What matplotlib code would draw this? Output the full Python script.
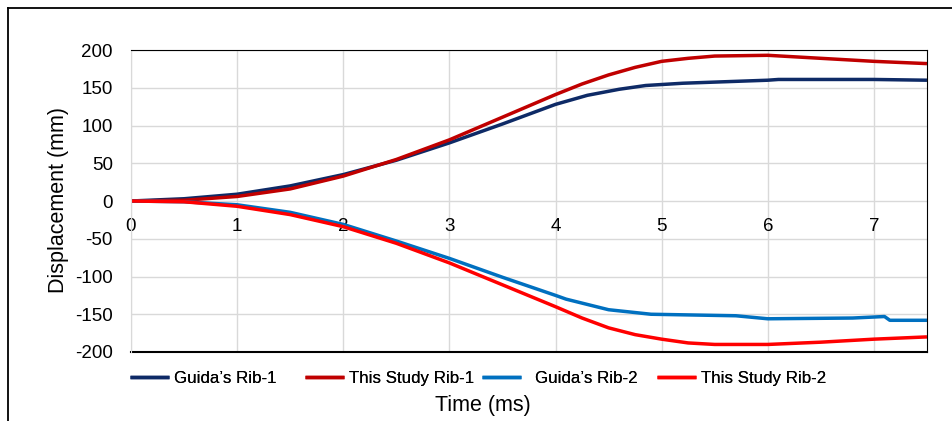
#!/usr/bin/env python3
"""
Rib displacement vs time: Guida's results compared with this study.
"""

import matplotlib
matplotlib.use('Agg')
import matplotlib.pyplot as plt
from matplotlib.lines import Line2D

# Guida's Rib-1
t_guida1 = [0, 0.5, 1.0, 1.5, 2.0, 2.5, 3.0, 3.5, 4.0, 4.3, 4.6, 4.85, 5.2, 5.6, 6.0, 6.1, 6.5, 7.0, 7.5]
d_guida1 = [0, 3, 9, 20, 35, 54, 77, 102, 128, 140, 148, 153, 156, 158, 160, 161, 161, 161, 160]

# This Study Rib-1
t_study1 = [0, 0.5, 1.0, 1.5, 2.0, 2.5, 3.0, 3.5, 4.0, 4.25, 4.5, 4.75, 5.0, 5.25, 5.5, 6.0, 6.5, 7.0, 7.5]
d_study1 = [0, 1, 6, 16, 33, 55, 81, 111, 141, 155, 167, 177, 185, 189, 192, 193, 189, 185, 182]

# Guida's Rib-2
t_guida2 = [0, 0.5, 1.0, 1.5, 2.0, 2.5, 3.0, 3.5, 4.0, 4.1, 4.5, 4.9, 5.7, 6.0, 6.8, 7.1, 7.15, 7.5]
d_guida2 = [0, -1, -5, -15, -31, -53, -76, -101, -125, -130, -144, -150, -152, -156, -155, -153, -158, -158]

# This Study Rib-2
t_study2 = [0, 0.5, 1.0, 1.5, 2.0, 2.5, 3.0, 3.5, 4.0, 4.25, 4.5, 4.75, 5.0, 5.25, 5.5, 6.0, 6.5, 7.0, 7.5]
d_study2 = [0, -1, -7, -18, -34, -56, -82, -111, -140, -155, -168, -177, -183, -188, -190, -190, -187, -183, -180]

x_ticks = [0, 1, 2, 3, 4, 5, 6, 7]
y_ticks = [-200, -150, -100, -50, 0, 50, 100, 150, 200]

labels = ["Guida\u2019s Rib-1", "This Study Rib-1", "Guida\u2019s Rib-2", "This Study Rib-2"]
colors = ['#0E2A66', '#C00000', '#0070C0', '#FF0000']

# legend entry placement (figure fraction of line start, text gap in font units)
legend_x = [0.1376, 0.3214, 0.5074, 0.6912]
legend_pad = [0.3, 0.3, 0.8, 0.3]


def main():
    plt.rcParams['font.family'] = ['Liberation Sans', 'DejaVu Sans']
    plt.rcParams['axes.unicode_minus'] = False

    fig = plt.figure(figsize=(9.52, 4.21), dpi=100)
    ax = fig.add_axes([0.1376, 0.1639, 0.8361, 0.7173])

    series = [(t_guida1, d_guida1), (t_study1, d_study1),
              (t_guida2, d_guida2), (t_study2, d_study2)]
    handles = []
    for (t, d), label, color in zip(series, labels, colors):
        line, = ax.plot(t, d, color=color, lw=2.5, label=label, solid_capstyle='butt',
                        solid_joinstyle='round')
        handles.append(line)

    ax.set_xlim(0, 7.5)
    ax.set_ylim(-200, 200)
    ax.set_xticks(x_ticks)
    ax.set_yticks(y_ticks)
    ax.grid(True, color='#D9D9D9', lw=1.0)
    ax.set_axisbelow(True)

    # x axis crosses at 0, frame drawn separately
    ax.spines['bottom'].set_position(('data', 0))
    ax.spines['bottom'].set_color('none')
    ax.spines['left'].set_color('#D9D9D9')
    ax.spines['top'].set_color('black')
    ax.spines['right'].set_color('black')
    ax.axhline(-200, color='black', lw=1.5, clip_on=False)

    ax.tick_params(axis='both', length=0, labelsize=13.5, colors='black')
    ax.tick_params(axis='x', pad=12)
    ax.tick_params(axis='y', pad=13)

    fig.text(0.061, 0.525, 'Displacement (mm)', rotation=90, ha='center', va='center', fontsize=15.5)
    fig.text(0.507, 0.038, 'Time (ms)', ha='center', va='center', fontsize=15.5)

    # one legend per entry to reproduce the uneven spacing
    for h, label, x, pad in zip(handles, labels, legend_x, legend_pad):
        leg = fig.legend([h], [label], loc='center left', bbox_to_anchor=(x - 0.0011, 0.102),
                         frameon=False, fontsize=12.2, handlelength=2.3, handletextpad=pad,
                         borderaxespad=0, borderpad=0)
        fig.add_artist(leg)

    # outer frame (left and top only)
    fig.add_artist(Line2D([0.0085, 0.0085], [0, 0.981], color='black', lw=1.3,
                          transform=fig.transFigure))
    fig.add_artist(Line2D([0.0085, 1.0], [0.981, 0.981], color='black', lw=1.3,
                          transform=fig.transFigure))

    fig.savefig('out.png', dpi=100)
    plt.close(fig)


if __name__ == "__main__":
    main()
